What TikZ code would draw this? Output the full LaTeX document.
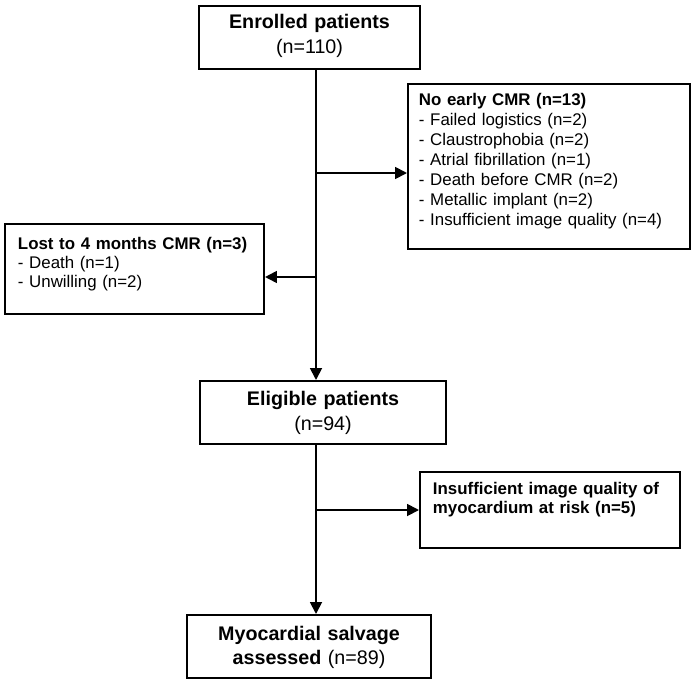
\documentclass[tikz,border=0pt]{standalone}
\usepackage{fontspec}
\setmainfont{Liberation Sans}
\usetikzlibrary{arrows.meta}

\begin{document}
\begin{tikzpicture}[x=0.025cm,y=-0.025cm,
  box/.style={draw,line width=1.4pt,anchor=north west,inner xsep=0pt,inner ysep=0pt,align=center,font=\fontsize{14}{17.5}\selectfont},
  side/.style={draw,line width=1.4pt,anchor=north west,inner ysep=0pt,align=left,font=\fontsize{12}{14.2}\selectfont},
  arr/.style={line width=1.3pt,-{Triangle[length=8.5pt,width=8.5pt]}}]

\useasboundingbox (0,0) rectangle (696,684);

\node[box,text width=5.525cm,text height=0.575cm,text depth=1cm] (0) at (198,5) {\textbf{Enrolled patients}\\(n=110)};
\node[side,inner xsep=0.275cm,text width=6.5cm,text height=0.55cm,text depth=3.575cm] (1) at (407,83) {\textbf{No early CMR (n=13)}\\- Failed logistics (n=2)\\- Claustrophobia (n=2)\\- Atrial fibrillation (n=1)\\- Death before CMR (n=2)\\- Metallic implant (n=2)\\- Insufficient image quality (n=4)};
\node[side,font=\fontsize{12}{13.5}\selectfont,inner xsep=0.325cm,text width=5.825cm,text height=0.65cm,text depth=1.6cm] (2) at (4,223) {\textbf{Lost to 4 months CMR (n=3)}\\- Death (n=1)\\- Unwilling (n=2)};
\node[box,text width=6.15cm,text height=0.625cm,text depth=0.95cm] (3) at (199,380) {\textbf{Eligible patients}\\(n=94)};
\node[side,font=\fontsize{12}{13.5}\selectfont,inner xsep=0.325cm,text width=5.85cm,text height=0.575cm,text depth=1.325cm] (4) at (419,471) {\textbf{Insufficient image quality of\\myocardium at risk (n=5)}};
\node[box,text width=6.1cm,text height=0.625cm,text depth=0.95cm] (5) at (186,614) {\textbf{Myocardial salvage}\\\textbf{assessed} (n=89)};

\coordinate (b1) at (316,173);
\coordinate (b2) at (316,277);
\coordinate (b3) at (316,510);

\draw[arr] (0.south -| b1) -- (3.north -| b1);
\draw[arr] (b1) -- (1.west |- b1);
\draw[arr] (b2) -- (2.east |- b2);
\draw[arr] (3.south -| b3) -- (5.north -| b3);
\draw[arr] (b3) -- (4.west |- b3);

\end{tikzpicture}
\end{document}
